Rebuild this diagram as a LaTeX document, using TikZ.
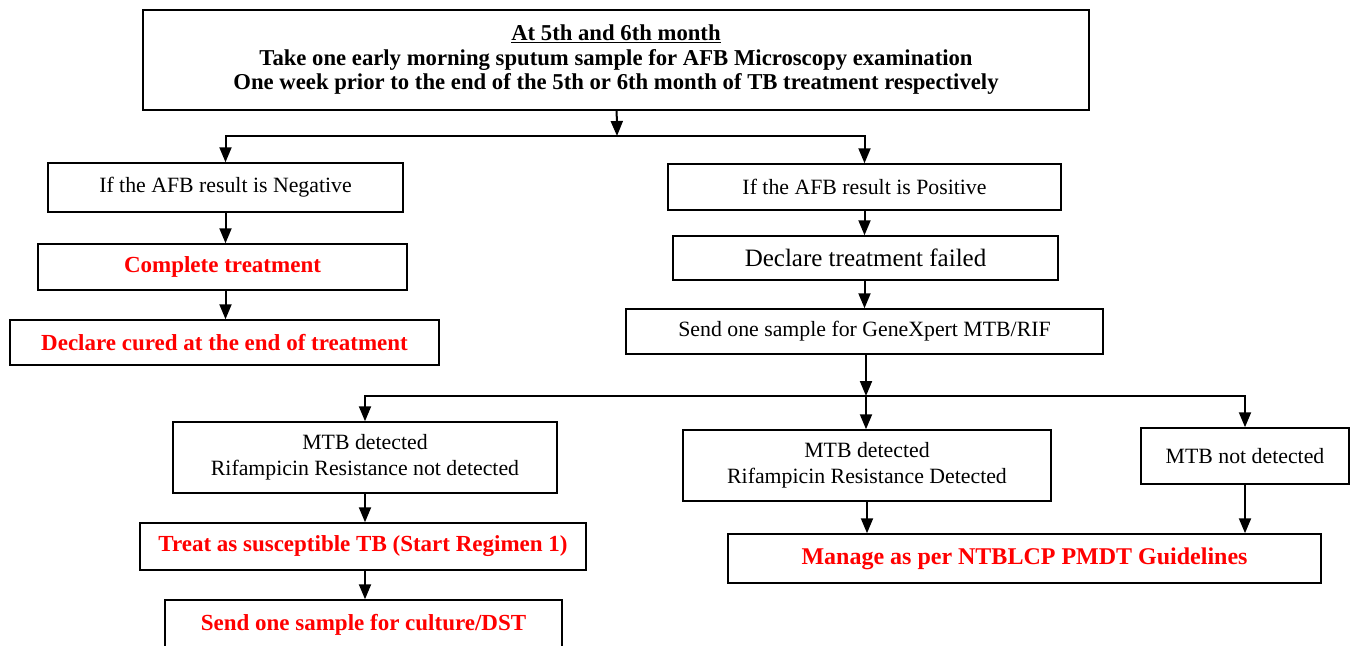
\documentclass[tikz,border=0pt]{standalone}
\usepackage{xcolor}
\usepackage{fontspec}
\setmainfont{Liberation Serif}
\usepackage{tikz}
\usetikzlibrary{arrows.meta}

\definecolor{alert}{RGB}{255,0,0}

\begin{document}
\begin{tikzpicture}[x=1pt,y=-1pt,
  box/.style={draw, line width=1.5pt, rectangle, align=center, inner sep=0pt,
    font=\fontsize{21.8}{26}\selectfont},
  redbox/.style={box, text=alert, font=\fontsize{23}{26}\selectfont\bfseries},
  arr/.style={-{Triangle[length=15pt,width=12pt]}, line width=2pt}]
\useasboundingbox (0,0) rectangle (1351,645);
\clip (0,0) rectangle (1351,645);

\node[box, minimum width=946pt, minimum height=100pt,
  font=\fontsize{22.7}{24.5}\selectfont\bfseries] (start) at (616,60)
{\underline{At 5th and 6th month}\\
Take one early morning sputum sample for AFB Microscopy examination\\
One week prior to the end of the 5th or 6th month of TB treatment respectively};

% negative branch
\node[box, minimum width=355pt, minimum height=49pt] (neg) at (225.5,187.5)
{If the AFB result is Negative};
\node[redbox, minimum width=369pt, minimum height=46pt] (complete) at (222.5,267)
{Complete treatment};
\node[redbox, minimum width=429pt, minimum height=45pt] (cured) at (224.5,342.5)
{Declare cured at the end of treatment};

% positive branch
\node[box, minimum width=393pt, minimum height=46pt] (pos) at (864.5,187)
{If the AFB result is Positive};
\node[box, minimum width=385pt, minimum height=44pt,
  font=\fontsize{25}{28}\selectfont] (failed) at (865.5,258)
{Declare treatment failed};
\node[box, minimum width=477pt, minimum height=45pt] (xpert) at (864.5,331.5)
{Send one sample for GeneXpert MTB/RIF};

% GeneXpert results
\node[box, minimum width=384pt, minimum height=71pt] (rifneg) at (365,457.5)
{MTB detected\\Rifampicin Resistance not detected};
\node[box, minimum width=368pt, minimum height=71pt] (rifpos) at (867,465.5)
{MTB detected\\Rifampicin Resistance Detected};
\node[box, minimum width=208pt, minimum height=56pt] (nomtb) at (1245,456)
{MTB not detected};
\node[redbox, minimum width=446pt, minimum height=47pt] (treat) at (363,546.5)
{Treat as susceptible TB (Start Regimen 1)};
\node[redbox, minimum width=397pt, minimum height=50pt] (culture) at (363.5,625)
{Send one sample for culture/DST};
\node[redbox, minimum width=593pt, minimum height=49pt,
  font=\fontsize{24}{28}\selectfont\bfseries] (pmdt) at (1024.5,558.5)
{Manage as per NTBLCP PMDT Guidelines};

\coordinate (split) at (617,136);
\coordinate (xsplit) at (866,396);

\draw[arr] (start) -- (split);
\draw[arr] (split) -| (neg);
\draw[arr] (split) -| (pos);
\draw[arr] (neg) -- (neg |- complete.north);
\draw[arr] (complete.south -| neg) -- (neg |- cured.north);
\draw[arr] (pos) -- (pos |- failed.north);
\draw[arr] (failed.south -| pos) -- (pos |- xpert.north);
\draw[arr] (xpert.south -| xsplit) -- (xsplit);
\draw[arr] (xsplit) -| (rifneg);
\draw[arr] (xsplit) -- (xsplit |- rifpos.north);
\draw[arr] (xsplit) -| (nomtb);
\draw[arr] (rifneg) -- (rifneg |- treat.north);
\draw[arr] (treat.south -| rifneg) -- (rifneg |- culture.north);
\draw[arr] (rifpos.south) -- (rifpos.south |- pmdt.north);
\draw[arr] (nomtb.south) -- (nomtb.south |- pmdt.north);
\end{tikzpicture}
\end{document}
